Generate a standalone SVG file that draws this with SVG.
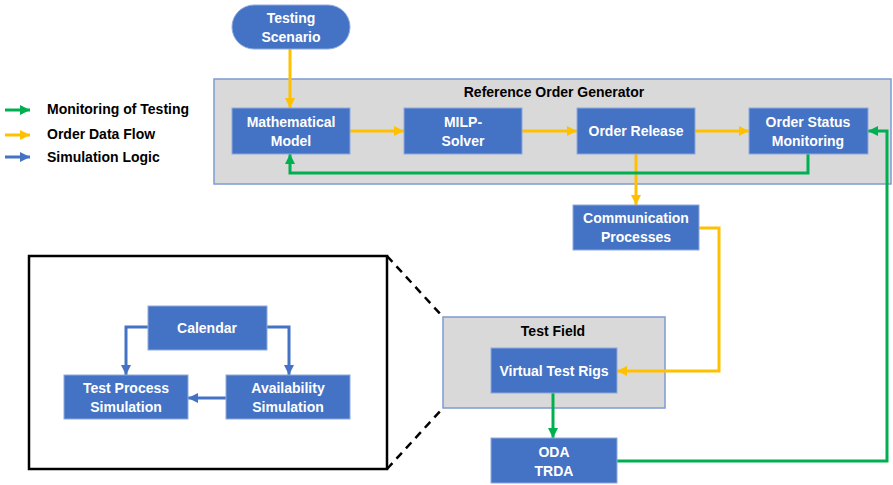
<svg xmlns="http://www.w3.org/2000/svg" width="893" height="485" viewBox="0 0 893 485">
<style>
.box{fill:#4472C4;stroke:#8FAADC;stroke-width:1}
.grp{fill:#D9D9D9;stroke:#7F9BD0;stroke-width:1.5}
.t{font-family:"Liberation Sans",Arial,sans-serif;font-weight:bold;font-size:14px;fill:#fff;text-anchor:middle}
.k{font-family:"Liberation Sans",Arial,sans-serif;font-weight:bold;font-size:14px;fill:#000}
.o{fill:none;stroke:#FFC000;stroke-width:3}
.g{fill:none;stroke:#00B050;stroke-width:3}
.b{fill:none;stroke:#4472C4;stroke-width:3}
</style>
<defs>
<marker id="ao" viewBox="0 0 10 10" refX="10" refY="5" markerWidth="10" markerHeight="10" markerUnits="userSpaceOnUse" orient="auto"><path d="M0,0 L10,5 L0,10 Z" fill="#FFC000"/></marker>
<marker id="ag" viewBox="0 0 10 10" refX="10" refY="5" markerWidth="10" markerHeight="10" markerUnits="userSpaceOnUse" orient="auto"><path d="M0,0 L10,5 L0,10 Z" fill="#00B050"/></marker>
<marker id="ab" viewBox="0 0 10 10" refX="10" refY="5" markerWidth="10" markerHeight="10" markerUnits="userSpaceOnUse" orient="auto"><path d="M0,0 L10,5 L0,10 Z" fill="#4472C4"/></marker>
</defs>

<g id="legend">
<line class="g" x1="5" y1="110" x2="30" y2="110" marker-end="url(#ag)"/>
<line class="o" x1="5" y1="135" x2="30" y2="135" marker-end="url(#ao)"/>
<line class="b" x1="5" y1="157" x2="30" y2="157" marker-end="url(#ab)"/>
<text class="k" x="47" y="114">Monitoring of Testing</text>
<text class="k" x="47" y="139">Order Data Flow</text>
<text class="k" x="47" y="162">Simulation Logic</text>
</g>

<g id="ref-order-generator">
<rect class="grp" x="214" y="79" width="677" height="105"/>
<text class="k" x="554" y="97" text-anchor="middle">Reference Order Generator</text>
</g>

<g id="test-field">
<rect class="grp" x="443" y="317" width="222" height="91"/>
<text class="k" x="553" y="336" text-anchor="middle">Test Field</text>
</g>

<g id="inset">
<rect x="29" y="256" width="358" height="213" fill="#fff" stroke="#000" stroke-width="2.5"/>
<line x1="387" y1="256" x2="443" y2="317" stroke="#000" stroke-width="2.5" stroke-dasharray="8 6"/>
<line x1="387" y1="469" x2="443" y2="408" stroke="#000" stroke-width="2.5" stroke-dasharray="8 6"/>
</g>

<g id="connectors">
<line class="o" x1="290" y1="49" x2="290" y2="108" marker-end="url(#ao)"/>
<line class="o" x1="350" y1="131" x2="404" y2="131" marker-end="url(#ao)"/>
<line class="o" x1="522" y1="131" x2="577" y2="131" marker-end="url(#ao)"/>
<line class="o" x1="695" y1="131" x2="749" y2="131" marker-end="url(#ao)"/>
<line class="o" x1="636" y1="154" x2="636" y2="205" marker-end="url(#ao)"/>
<path class="o" d="M699,228 H719 V371 H617" marker-end="url(#ao)"/>
<path class="g" d="M808,154 V173 H290 V154" marker-end="url(#ag)"/>
<path class="g" d="M617,461 H887 V131 H868" marker-end="url(#ag)"/>
<line class="g" x1="553" y1="393" x2="553" y2="438" marker-end="url(#ag)"/>
<path class="b" d="M148,327 H126 V375" marker-end="url(#ab)"/>
<path class="b" d="M267,327 H289 V375" marker-end="url(#ab)"/>
<line class="b" x1="226" y1="398" x2="188" y2="398" marker-end="url(#ab)"/>
</g>

<g id="testing-scenario">
<rect class="box" x="232" y="5" width="118" height="44" rx="22"/>
<text class="t" x="291" y="23">Testing</text>
<text class="t" x="291" y="42">Scenario</text>
</g>
<g id="mathematical-model">
<rect class="box" x="232" y="108" width="118" height="46"/>
<text class="t" x="291" y="127">Mathematical</text>
<text class="t" x="291" y="146">Model</text>
</g>
<g id="milp-solver">
<rect class="box" x="404" y="108" width="118" height="46"/>
<text class="t" x="463" y="127">MILP-</text>
<text class="t" x="463" y="146">Solver</text>
</g>
<g id="order-release">
<rect class="box" x="577" y="108" width="118" height="46"/>
<text class="t" x="636" y="136">Order Release</text>
</g>
<g id="order-status-monitoring">
<rect class="box" x="749" y="108" width="119" height="46"/>
<text class="t" x="808" y="127">Order Status</text>
<text class="t" x="808" y="146">Monitoring</text>
</g>
<g id="communication-processes">
<rect class="box" x="573" y="205" width="126" height="45"/>
<text class="t" x="636" y="223">Communication</text>
<text class="t" x="636" y="242">Processes</text>
</g>
<g id="virtual-test-rigs">
<rect class="box" x="491" y="348" width="126" height="45"/>
<text class="t" x="554" y="376">Virtual Test Rigs</text>
</g>
<g id="oda-trda">
<rect class="box" x="491" y="438" width="126" height="45"/>
<text class="t" x="554" y="457">ODA</text>
<text class="t" x="554" y="476">TRDA</text>
</g>
<g id="calendar">
<rect class="box" x="148" y="306" width="119" height="44"/>
<text class="t" x="207" y="333">Calendar</text>
</g>
<g id="test-process-simulation">
<rect class="box" x="64" y="375" width="124" height="44"/>
<text class="t" x="126" y="393">Test Process</text>
<text class="t" x="126" y="412">Simulation</text>
</g>
<g id="availability-simulation">
<rect class="box" x="226" y="375" width="124" height="44"/>
<text class="t" x="288" y="393">Availability</text>
<text class="t" x="288" y="412">Simulation</text>
</g>
</svg>
